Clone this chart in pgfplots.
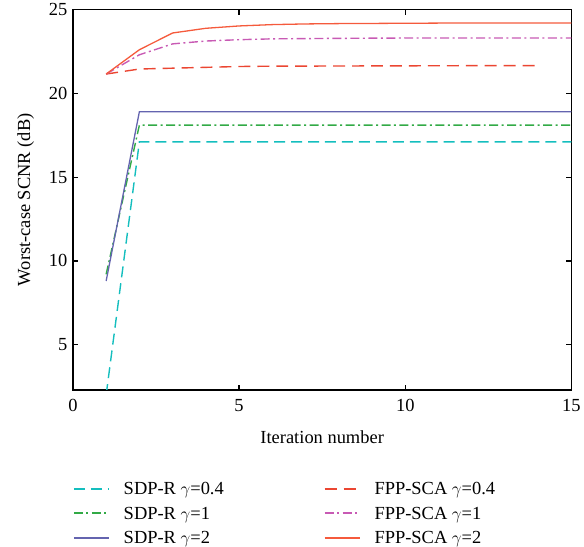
\documentclass[border={14bp 0pt 0pt 0pt}]{standalone}
\usepackage{fontspec}
\setmainfont{Liberation Serif}
\usepackage{pgfplots}
\pgfplotsset{compat=1.18}
\definecolor{cSa}{RGB}{20,190,190}
\definecolor{cSb}{RGB}{50,170,70}
\definecolor{cSc}{RGB}{100,100,175}
\definecolor{cFa}{RGB}{235,70,50}
\definecolor{cFb}{RGB}{200,90,180}
\definecolor{cFc}{RGB}{245,90,60}
\pgfplotsset{
  dashleg/.style={legend image code/.code={\draw[##1, line width=1.6pt] (0bp,0.5bp) -- (35bp,0.5bp);}},
  solidleg/.style={legend image code/.code={\draw[##1, line width=1.3pt] (0bp,0bp) -- (35bp,0bp);}},
}
\begin{document}
\begin{tikzpicture}[font=\fontsize{18.5}{22}\selectfont]
\begin{axis}[
    width=498bp, height=380bp, scale only axis,
    xmin=0, xmax=15, ymin=2.3, ymax=25,
    xtick={0,5,10,15}, ytick={5,10,15,20,25},
    tick align=inside, major tick length=5bp,
    axis line style={line width=1.2pt},
    every tick/.style={line width=1.2pt, black},
    xlabel={Iteration number}, ylabel={Worst-case SCNR (dB)},
    xlabel shift=12bp, ylabel shift=8bp,
    xticklabel style={yshift=-6bp},
    yticklabel style={xshift=-2bp},
    /pgf/number format/assume math mode=true,
    ticklabel style={font=\fontsize{18.5}{22}\selectfont},
    label style={font=\fontsize{18.5}{22}\selectfont},
    legend columns=2,
    legend cell align=left,
    legend style={draw=none, fill=none, at={(0,-0.238)}, anchor=north west,
      font=\fontsize{18.5}{22}\selectfont, row sep=6.5pt, inner sep=0pt,
      /tikz/every odd column/.append style={column sep=12bp},
      /tikz/every even column/.append style={column sep=98bp}},
    clip=true,
    ]
\addplot[cSa, line width=1.4pt, dash pattern=on 11pt off 6pt, dashleg] coordinates {(1,2.0) (2,17.1) (15,17.1)};
\addlegendentry{SDP-R $\gamma$=0.4}
\addplot[cFa, line width=1.4pt, dash pattern=on 12pt off 7pt, dashleg] coordinates {(1,21.15) (2,21.45) (3,21.5) (4,21.55) (5,21.6) (6,21.62) (8,21.63) (10,21.64) (12,21.65) (14,21.65)};
\addlegendentry{FPP-SCA $\gamma$=0.4}
\addplot[cSb, line width=1.4pt, dash pattern=on 9pt off 3.5pt on 2pt off 3.5pt, dashleg] coordinates {(1,9.2) (2,18.1) (15,18.1)};
\addlegendentry{SDP-R $\gamma$=1}
\addplot[cFb, line width=1.4pt, dash pattern=on 9pt off 3.5pt on 2pt off 3.5pt, dashleg] coordinates {(1,21.15) (2,22.3) (3,22.95) (4,23.12) (5,23.2) (6,23.25) (8,23.28) (10,23.3) (12,23.3) (15,23.3)};
\addlegendentry{FPP-SCA $\gamma$=1}
\addplot[cSc, line width=1.3pt, solidleg] coordinates {(1,8.8) (2,18.9) (15,18.9)};
\addlegendentry{SDP-R $\gamma$=2}
\addplot[cFc, line width=1.3pt, solidleg] coordinates {(1,21.15) (2,22.6) (3,23.6) (4,23.88) (5,24.02) (6,24.1) (7,24.14) (8,24.16) (10,24.18) (12,24.2) (15,24.2)};
\addlegendentry{FPP-SCA $\gamma$=2}
\end{axis}
\end{tikzpicture}
\end{document}
